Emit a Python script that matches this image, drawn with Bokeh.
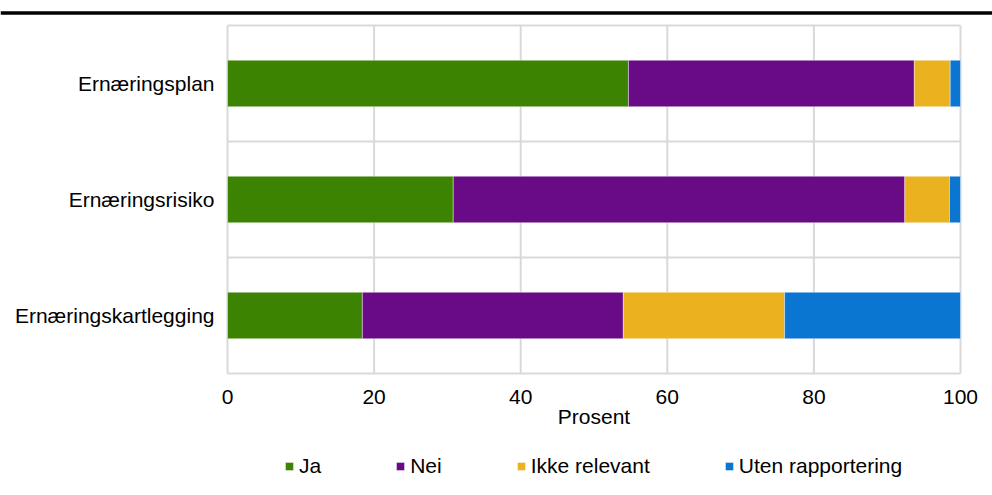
from bokeh.plotting import figure
from bokeh.models import ColumnDataSource, FixedTicker, Legend, Range1d, Span
from bokeh.embed import file_html
from bokeh.resources import INLINE

# ---- data ----
categories = ["Ernæringskartlegging", "Ernæringsrisiko", "Ernæringsplan"]
series = ["Ja", "Nei", "Ikke relevant", "Uten rapportering"]
ja = [18.4, 30.8, 54.7]
nei = [35.6, 61.6, 39.0]
ikke_relevant = [22.0, 6.1, 4.9]
uten_rapportering = [24.0, 1.5, 1.4]
x_ticks = [0, 20, 40, 60, 80, 100]
x_label = "Prosent"

colors = ["#3B8300", "#690A86", "#EAB21F", "#0A76D2"]
GRID = "#D9D9D9"
FONT = "Liberation Sans"

n_cat = len(categories)
ypos = [i + 0.5 for i in range(n_cat)]
source = ColumnDataSource(dict(
    y=ypos, cat=categories,
    **{series[0]: ja, series[1]: nei, series[2]: ikke_relevant, series[3]: uten_rapportering}
))

# ---- layout constants (pixels) ----
W, H = 992, 495
PLOT_LEFT, PLOT_RIGHT, PLOT_TOP, PLOT_BOTTOM = 227, 960, 25, 373
RULE_Y = 12.5            # black rule under the (cropped) heading
px_x = (PLOT_RIGHT - PLOT_LEFT) / 100.0
px_y = (PLOT_BOTTOM - PLOT_TOP) / n_cat

x_range = Range1d(-PLOT_LEFT / px_x, 100 + (W - PLOT_RIGHT) / px_x)
y_range = Range1d(-(H - PLOT_BOTTOM) / px_y, n_cat + PLOT_TOP / px_y)

p = figure(width=W, height=H, output_backend="svg", toolbar_location=None,
           x_range=x_range, y_range=y_range,
           min_border_left=0, min_border_right=0, min_border_top=0, min_border_bottom=0)
p.outline_line_color = None
p.background_fill_color = "white"
p.border_fill_color = "white"
p.xgrid.visible = False
p.ygrid.visible = False

# black rule at the top
p.add_layout(Span(location=n_cat + (PLOT_TOP - RULE_Y) / px_y, dimension="width",
                  line_color="black", line_width=3.5))

# grid lines limited to the plotting area
p.segment(x0=x_ticks, y0=[0] * len(x_ticks), x1=x_ticks, y1=[n_cat] * len(x_ticks),
          line_color=GRID, line_width=2)
bounds_y = list(range(n_cat + 1))
p.segment(x0=[0] * len(bounds_y), y0=bounds_y, x1=[100] * len(bounds_y), y1=bounds_y,
          line_color=GRID, line_width=2)

renderers = p.hbar_stack(series, y="y", height=0.4, color=colors, source=source,
                         line_color="white", line_width=0.8, line_alpha=0.5)

# x axis fixed at 0 of the category scale
p.xaxis.fixed_location = 0
p.xaxis.bounds = (0, 100)
p.xaxis.ticker = FixedTicker(ticks=x_ticks)
p.xaxis.axis_line_color = None
p.xaxis.major_tick_line_color = None
p.xaxis.minor_tick_line_color = None
p.xaxis.major_label_standoff = 10
p.xaxis.major_label_text_font = FONT
p.xaxis.major_label_text_font_size = "21px"
p.xaxis.major_label_text_color = "#000000"
p.xaxis.axis_label = x_label
p.xaxis.axis_label_text_font = FONT
p.xaxis.axis_label_text_font_size = "21px"
p.xaxis.axis_label_text_font_style = "normal"
p.xaxis.axis_label_text_color = "#000000"
p.xaxis.axis_label_standoff = -2

# y axis fixed at 0 percent
p.yaxis.fixed_location = 0
p.yaxis.bounds = (0, n_cat)
p.yaxis.ticker = FixedTicker(ticks=ypos)
p.yaxis.major_label_overrides = {y: c for y, c in zip(ypos, categories)}
p.yaxis.axis_line_color = None
p.yaxis.major_tick_line_color = None
p.yaxis.minor_tick_line_color = None
p.yaxis.major_label_standoff = 7
p.yaxis.major_label_text_font = FONT
p.yaxis.major_label_text_font_size = "21px"
p.yaxis.major_label_text_color = "#000000"

legend = Legend(items=[(s, [r]) for s, r in zip(series, renderers)],
                orientation="horizontal", location=(284, 17),
                glyph_width=10, glyph_height=10, label_standoff=5, spacing=74,
                label_text_font=FONT, label_text_font_size="21px", label_text_color="#000000",
                border_line_color=None, background_fill_alpha=0, margin=0, padding=4)
p.add_layout(legend)

open("out.html", "w").write(file_html(p, INLINE))
